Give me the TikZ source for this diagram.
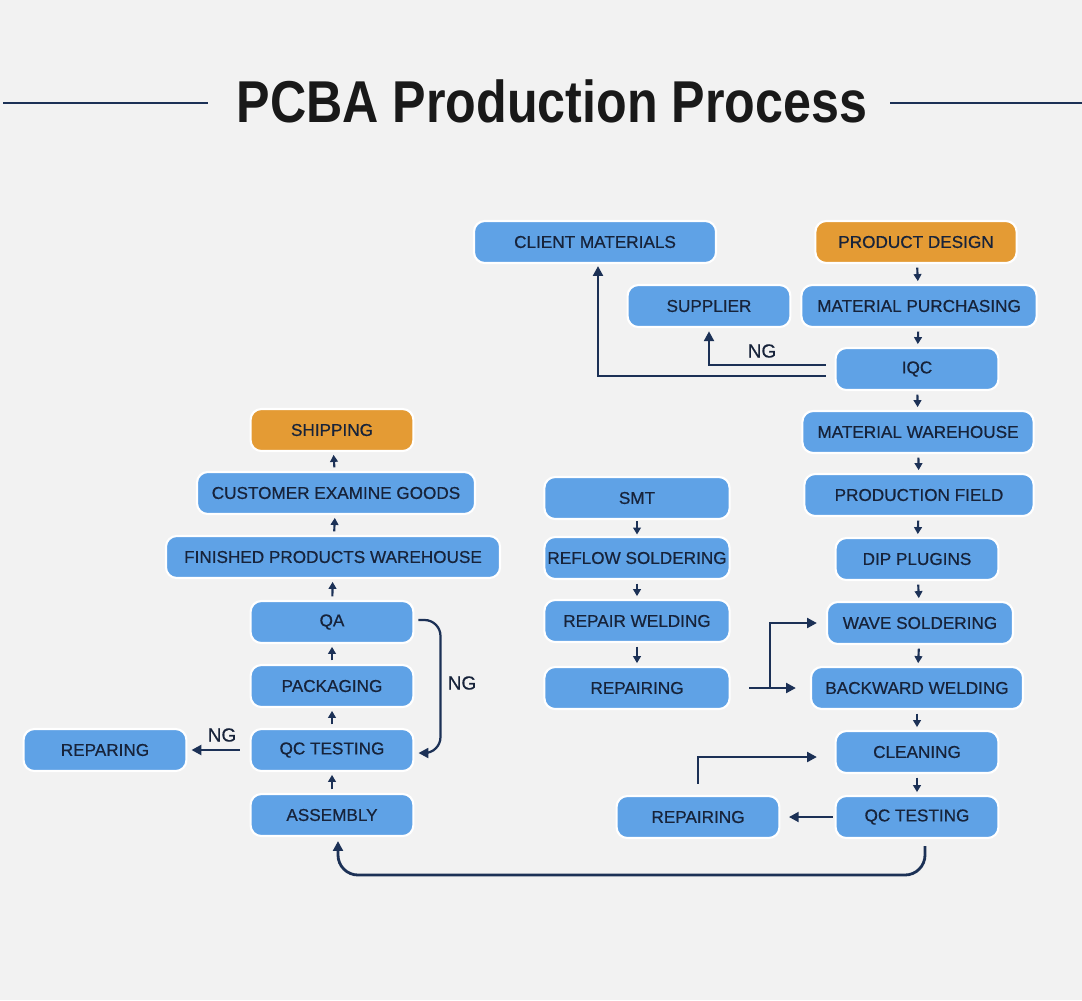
\documentclass[tikz,border=0pt]{standalone}
\usepackage{fontspec}
\setmainfont{Liberation Sans}
\newfontfamily\boxfont[FakeBold=0.6]{Liberation Sans}
\usetikzlibrary{arrows.meta}
\definecolor{boxblue}{HTML}{5FA2E6}
\definecolor{boxorange}{HTML}{E49B34}
\definecolor{navy}{HTML}{1C3156}
\definecolor{paper}{HTML}{F2F2F2}
\definecolor{ink}{HTML}{17233A}
\tikzset{
  stage/.style={draw=white,line width=1.5pt,fill=boxblue,rounded corners=0.27cm,minimum height=1.05cm,minimum width=4.07cm,inner sep=0pt,text=ink,font=\boxfont\fontsize{12.2}{14}\selectfont},
  endstage/.style={stage,fill=boxorange},
  link/.style={-{Triangle[length=5pt,width=5.5pt]},navy,line width=1.5pt,shorten <=2.5pt,shorten >=2pt},
  flow/.style={-{Triangle[length=7pt,width=7pt]},navy,line width=2pt},
  tag/.style={text=ink,inner sep=0pt,font=\boxfont\fontsize{13.5}{16}\selectfont}
}

\begin{document}
\begin{tikzpicture}[x=0.025cm,y=-0.025cm]
\path[use as bounding box,fill=paper] (0,0) rectangle (1082,1000);

\node[inner sep=0pt,text=black!90] (title) at (552,101) {\fontsize{42}{50}\selectfont\bfseries\scalebox{0.85}[1]{PCBA Production Process}};
\draw[navy,line width=1.6pt] (3,103) -- (208,103);
\draw[navy,line width=1.6pt] (890,103) -- (1082,103);

\node[stage,minimum width=6.05cm] (client) at (595,242) {CLIENT MATERIALS};
\node[endstage,minimum width=5.03cm] (design) at (916,242) {PRODUCT DESIGN};
\node[stage] (supplier) at (709,306) {SUPPLIER};
\node[stage,minimum width=5.88cm] (purch) at (919,306) {MATERIAL PURCHASING};
\node[stage] (iqc) at (917,369) {IQC};
\node[stage,minimum width=5.78cm] (mware) at (918,432) {MATERIAL WAREHOUSE};
\node[stage,minimum width=5.73cm] (field) at (919,495) {PRODUCTION FIELD};
\node[stage] (dip) at (917,559) {DIP PLUGINS};
\node[stage,minimum width=4.65cm] (wave) at (920,623) {WAVE SOLDERING};
\node[stage,minimum width=5.3cm] (bw) at (917,688) {BACKWARD WELDING};
\node[stage] (clean) at (917,752) {CLEANING};
\node[stage] (qc2) at (917,817) {QC TESTING};
\node[stage] (rep2) at (698,817) {REPAIRING};

\node[stage,minimum width=4.63cm] (smt) at (637,498) {SMT};
\node[stage,minimum width=4.63cm] (reflow) at (637,558) {REFLOW SOLDERING};
\node[stage,minimum width=4.63cm] (rweld) at (637,621) {REPAIR WELDING};
\node[stage,minimum width=4.63cm] (rep1) at (637,688) {REPAIRING};

\node[endstage] (ship) at (332,430) {SHIPPING};
\node[stage,minimum width=6.95cm] (cust) at (336,493) {CUSTOMER EXAMINE GOODS};
\node[stage,minimum width=8.35cm] (fin) at (333,557) {FINISHED PRODUCTS WAREHOUSE};
\node[stage] (qa) at (332,622) {QA};
\node[stage] (pack) at (332,686) {PACKAGING};
\node[stage] (qct) at (332,750) {QC TESTING};
\node[stage] (asm) at (332,815) {ASSEMBLY};
\node[stage] (rep0) at (105,750) {REPARING};

\draw[link] (design) -- (purch);
\draw[link] (purch) -- (iqc);
\draw[link] (iqc) -- (mware);
\draw[link] (mware) -- (field);
\draw[link] (field) -- (dip);
\draw[link] (dip) -- (wave);
\draw[link] (wave) -- (bw);
\draw[link] (bw) -- (clean);
\draw[link] (clean) -- (qc2);
\draw[link,shorten <=1pt,shorten >=1pt] (smt) -- (reflow);
\draw[link] (reflow) -- (rweld);
\draw[link] (rweld) -- (rep1);
\draw[link] (asm) -- (qct);
\draw[link] (qct) -- (pack);
\draw[link] (pack) -- (qa);
\draw[link] (qa) -- (fin);
\draw[link] (fin) -- (cust);
\draw[link] (cust) -- (ship);

\draw[flow] ([xshift=-0.225cm,yshift=0.1cm]iqc.west) -| ([yshift=-0.08cm]supplier.south);
\draw[flow] ([xshift=-0.225cm,yshift=-0.175cm]iqc.west) -| ([xshift=0.075cm,yshift=-0.05cm]client.south);
\node[tag] (ng1) at (762,351) {NG};

\coordinate (split) at (770,688);
\draw[flow] ([xshift=0.46cm]rep1.east) -- ([xshift=-0.35cm]bw.west);
\draw[flow] (split) |- ([xshift=-0.225cm]wave.west);

\draw[flow] ([xshift=-0.05cm]qc2.west) -- ([xshift=0.21cm]rep2.east);
\draw[flow] ([yshift=0.275cm]rep2.north) |- ([xshift=-0.44cm,yshift=-0.125cm]clean.west);

\coordinate (base) at (630,875);
\draw[flow,rounded corners=0.5cm] ([xshift=0.2cm,yshift=-0.175cm]qc2.south) |- (base) -| ([xshift=0.15cm,yshift=-0.1cm]asm.south);

\draw[flow,line width=1.6pt,rounded corners=0.4cm] ([xshift=0.1cm,yshift=0.05cm]qa.east) -- ++(0.55cm,0) |- ([xshift=0.1cm,yshift=-0.075cm]qct.east);
\node[tag] (ng2) at (462,683) {NG};

\draw[flow] ([xshift=-0.25cm]qct.west) -- ([xshift=0.1cm]rep0.east);
\node[tag] (ng3) at (222,735) {NG};
\end{tikzpicture}
\end{document}
